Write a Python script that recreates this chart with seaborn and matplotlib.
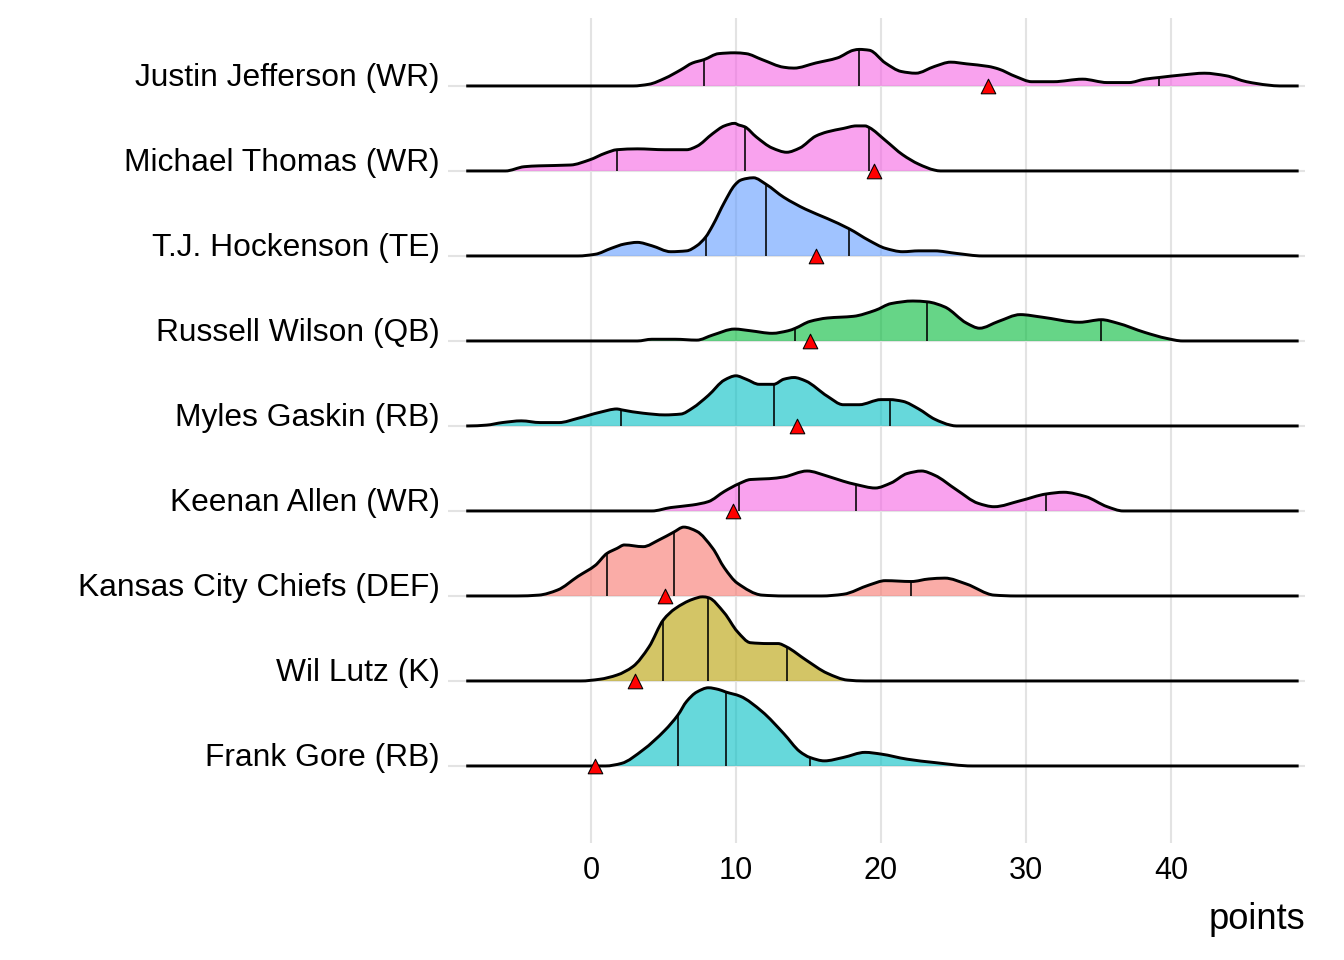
import numpy as np
import matplotlib.pyplot as plt
import seaborn as sns
from matplotlib.path import Path
from matplotlib.patches import PathPatch

sns.set_theme(style="white")
plt.rcParams["font.family"] = ["Liberation Sans", "DejaVu Sans"]

# Ridge profiles: x = points, h = ridge height (in row units)
# listed bottom row first
gore_x = [1.0, 2.1, 3.6, 5.1, 6.0, 6.6, 7.3, 8.1, 8.8, 9.3, 10.3, 11.8, 13.3, 14.4, 15.1, 16.1, 17.4, 18.9, 20.0, 21.8, 23.7, 26.3]
gore_h = [0, 0.03, 0.19, 0.42, 0.60, 0.76, 0.87, 0.92, 0.90, 0.87, 0.82, 0.64, 0.38, 0.17, 0.10, 0.06, 0.10, 0.16, 0.14, 0.08, 0.04, 0]

lutz_x = [-0.7, 0.6, 1.8, 2.9, 4.0, 5.0, 5.8, 7.0, 7.7, 8.1, 9.2, 10.1, 11.0, 12.2, 12.9, 13.5, 14.8, 16.3, 17.7, 18.9]
lutz_h = [0, 0.02, 0.07, 0.17, 0.40, 0.72, 0.85, 0.96, 0.99, 0.98, 0.80, 0.58, 0.45, 0.44, 0.44, 0.40, 0.25, 0.09, 0.01, 0]

kc_x = [-5.1, -3.6, -2.3, -0.9, 0.3, 1.1, 1.8, 2.3, 3.6, 4.7, 5.7, 6.4, 7.3, 8.4, 9.2, 10.1, 11.8, 13.3, 15.9, 17.4, 19.2, 20.3, 22.1, 23.3, 24.4, 25.9, 27.8, 29.3]
kc_h = [0, 0.01, 0.07, 0.23, 0.36, 0.50, 0.56, 0.60, 0.58, 0.66, 0.75, 0.81, 0.76, 0.56, 0.33, 0.15, 0.01, 0, 0, 0.02, 0.13, 0.18, 0.17, 0.20, 0.21, 0.14, 0.01, 0]

allen_x = [4.2, 5.5, 7.0, 8.1, 9.2, 10.2, 11.0, 12.3, 13.3, 14.9, 16.3, 17.4, 18.3, 19.6, 20.7, 21.8, 22.8, 23.7, 25.2, 26.7, 27.8, 29.6, 31.4, 32.6, 34.1, 35.6, 36.7]
allen_h = [0, 0.04, 0.07, 0.11, 0.23, 0.32, 0.37, 0.38, 0.40, 0.47, 0.41, 0.35, 0.31, 0.27, 0.33, 0.44, 0.47, 0.42, 0.25, 0.09, 0.05, 0.12, 0.20, 0.22, 0.17, 0.05, 0]

gaskin_x = [-8.5, -7.2, -6.1, -4.8, -3.5, -2.2, -0.9, 0.6, 1.8, 2.1, 3.6, 5.1, 6.2, 7.0, 8.1, 9.2, 10.0, 10.7, 11.6, 12.6, 13.3, 14.0, 14.8, 16.3, 17.4, 18.5, 20.0, 20.6, 21.5, 22.6, 23.7, 24.8, 25.2]
gaskin_h = [0, 0.01, 0.04, 0.06, 0.04, 0.04, 0.09, 0.16, 0.20, 0.19, 0.15, 0.13, 0.14, 0.21, 0.36, 0.54, 0.59, 0.55, 0.49, 0.49, 0.55, 0.57, 0.53, 0.35, 0.25, 0.25, 0.31, 0.31, 0.29, 0.20, 0.08, 0.01, 0]

wilson_x = [3.2, 4.2, 5.8, 7.3, 8.4, 9.9, 11.0, 12.5, 13.6, 14.1, 15.1, 16.3, 18.1, 19.6, 20.7, 22.2, 23.2, 24.4, 25.9, 26.8, 28.1, 29.6, 31.1, 33.7, 35.2, 36.3, 38.2, 39.7, 40.8]
wilson_h = [0, 0.02, 0.02, 0.01, 0.07, 0.14, 0.12, 0.09, 0.12, 0.15, 0.23, 0.27, 0.29, 0.36, 0.44, 0.47, 0.46, 0.40, 0.21, 0.15, 0.23, 0.31, 0.28, 0.22, 0.25, 0.21, 0.10, 0.03, 0]

hock_x = [-0.9, 0.3, 1.4, 2.3, 3.2, 4.2, 5.5, 6.6, 7.3, 7.9, 8.4, 9.2, 9.9, 10.3, 10.7, 11.2, 12.1, 13.3, 14.8, 16.3, 17.8, 19.2, 20.3, 21.5, 22.6, 23.7, 25.2, 27.0]
hock_h = [0, 0.02, 0.09, 0.14, 0.16, 0.12, 0.05, 0.06, 0.12, 0.22, 0.36, 0.63, 0.83, 0.89, 0.91, 0.92, 0.84, 0.69, 0.55, 0.44, 0.32, 0.18, 0.09, 0.05, 0.06, 0.06, 0.03, 0]

thomas_x = [-5.9, -4.6, -3.6, -1.4, -0.1, 1.0, 1.8, 3.2, 5.1, 6.6, 7.3, 8.4, 9.2, 9.9, 10.2, 10.6, 11.4, 12.5, 13.5, 14.4, 15.5, 16.3, 17.4, 18.3, 18.9, 19.2, 20.3, 21.5, 22.6, 23.7, 24.1]
thomas_h = [0, 0.05, 0.06, 0.07, 0.13, 0.21, 0.25, 0.26, 0.25, 0.25, 0.29, 0.44, 0.53, 0.56, 0.54, 0.52, 0.40, 0.27, 0.22, 0.27, 0.41, 0.46, 0.50, 0.53, 0.53, 0.51, 0.36, 0.19, 0.08, 0.01, 0]

jeff_x = [2.9, 4.0, 5.1, 6.2, 7.0, 7.8, 8.8, 9.9, 10.7, 11.8, 13.3, 14.0, 15.5, 17.0, 18.1, 18.5, 19.2, 20.3, 21.4, 22.4, 23.7, 24.8, 25.9, 27.4, 28.1, 29.3, 30.4, 31.9, 33.9, 35.6, 37.1, 38.2, 39.2, 40.8, 42.3, 43.8, 45.2, 46.7, 47.5]
jeff_h = [0, 0.02, 0.09, 0.19, 0.27, 0.31, 0.38, 0.39, 0.38, 0.31, 0.22, 0.21, 0.27, 0.33, 0.42, 0.43, 0.42, 0.27, 0.17, 0.15, 0.23, 0.28, 0.26, 0.23, 0.20, 0.11, 0.05, 0.05, 0.08, 0.04, 0.04, 0.08, 0.10, 0.13, 0.15, 0.12, 0.05, 0.01, 0]

players = ["Frank Gore (RB)", "Wil Lutz (K)", "Kansas City Chiefs (DEF)", "Keenan Allen (WR)",
           "Myles Gaskin (RB)", "Russell Wilson (QB)", "T.J. Hockenson (TE)",
           "Michael Thomas (WR)", "Justin Jefferson (WR)"]
positions = ["RB", "K", "DEF", "WR", "RB", "QB", "TE", "WR", "WR"]
profiles_x = [gore_x, lutz_x, kc_x, allen_x, gaskin_x, wilson_x, hock_x, thomas_x, jeff_x]
profiles_h = [gore_h, lutz_h, kc_h, allen_h, gaskin_h, wilson_h, hock_h, thomas_h, jeff_h]
quantiles = [[6.0, 9.3, 15.1], [5.0, 8.1, 13.5], [1.1, 5.7, 22.1], [10.2, 18.3, 31.4],
             [2.1, 12.6, 20.6], [14.1, 23.2, 35.2], [7.9, 12.1, 17.8], [1.8, 10.6, 19.2],
             [7.8, 18.5, 39.2]]
actual = [0.3, 3.05, 5.1, 9.8, 14.2, 15.1, 15.5, 19.5, 27.4]

score_min, score_max = -8.6, 48.8

pos_colors = {"DEF": "#F8766D", "K": "#B79F00", "QB": "#00BA38",
              "RB": "#00BFC4", "TE": "#619CFF", "WR": "#F564E3"}


def slopes(x, y):
    # monotone-ish tangents so the smooth outline does not overshoot the knots
    d = np.diff(y) / np.diff(x)
    m = np.zeros(len(x))
    for k in range(1, len(x) - 1):
        if d[k - 1] * d[k] > 0:
            m[k] = 2 / (1 / d[k - 1] + 1 / d[k])
    return m


def ridge_path(x, y, m):
    verts = [(x[0], y[0])]
    codes = [Path.MOVETO]
    for i in range(len(x) - 1):
        h = x[i + 1] - x[i]
        verts += [(x[i] + h / 3, y[i] + m[i] * h / 3),
                  (x[i + 1] - h / 3, y[i + 1] - m[i + 1] * h / 3),
                  (x[i + 1], y[i + 1])]
        codes += [Path.CURVE4] * 3
    return verts, codes


def curve_at(q, x, y, m):
    i = np.clip(np.searchsorted(x, q) - 1, 0, len(x) - 2)
    h = x[i + 1] - x[i]
    t = (q - x[i]) / h
    return ((2 * t**3 - 3 * t**2 + 1) * y[i] + (t**3 - 2 * t**2 + t) * h * m[i]
            + (-2 * t**3 + 3 * t**2) * y[i + 1] + (t**3 - t**2) * h * m[i + 1])


fig = plt.figure(figsize=(7, 5), dpi=192)
ax = fig.add_axes([0.3333, 0.1219, 0.6377, 0.8594])

n = len(players)
for i in range(n):
    base = i + 1
    full_x = np.concatenate([[score_min], profiles_x[i], [score_max]])
    full_y = base + np.concatenate([[0], profiles_h[i], [0]])
    m = slopes(full_x, full_y)
    verts, codes = ridge_path(full_x, full_y, m)
    z = 10 + (n - i) * 3
    ax.add_patch(PathPatch(Path(verts + [verts[0]], codes + [Path.CLOSEPOLY]),
                           facecolor=pos_colors[positions[i]], alpha=0.6, lw=0, zorder=z))
    ax.add_patch(PathPatch(Path(verts, codes), fill=False, edgecolor="black",
                           lw=1.1, zorder=z + 1, capstyle="butt"))
    q = np.array(quantiles[i])
    tops = [curve_at(v, full_x, full_y, m) for v in q]
    ax.vlines(q, base, tops, color="black", lw=0.6, zorder=z + 1)

sns.scatterplot(x=actual, y=np.arange(1, n + 1), marker="^", s=30, color="red",
                edgecolor="black", linewidth=0.4, ax=ax, zorder=100, legend=False)

ax.set_xlim(-9.86, 49.24)
ax.set_ylim(0.094, 9.8)
ax.set_xticks([0, 10, 20, 30, 40])
ax.set_yticks(np.arange(1, n + 1))
ax.set_yticklabels(players)
for lbl in ax.get_yticklabels():
    lbl.set_verticalalignment("baseline")
ax.tick_params(axis="y", length=0, pad=3, labelsize=11.9, labelcolor="black")
ax.tick_params(axis="x", length=0, pad=5, labelsize=11.5, labelcolor="black")
ax.grid(True, color="#E3E3E3", lw=0.8)
ax.set_axisbelow(True)
for s in ax.spines.values():
    s.set_visible(False)
ax.set_xlabel("points", loc="right", fontsize=13.6, color="black", labelpad=6)
ax.set_ylabel("")

fig.savefig("out.png", dpi=192)
